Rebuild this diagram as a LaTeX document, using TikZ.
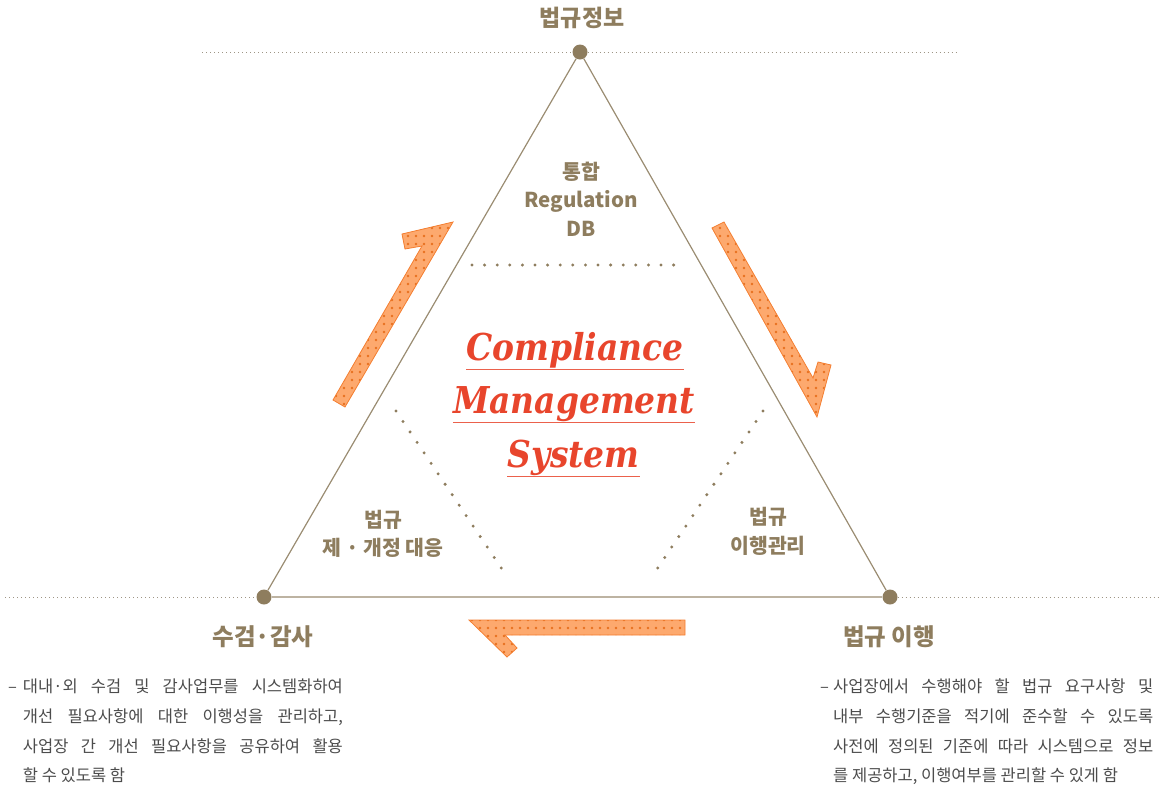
\documentclass[tikz,border=0pt]{standalone}
\usepackage{fontspec}
\setmainfont{Noto Sans CJK KR}
\newfontfamily\cmsfont{DejaVu Serif}[FakeStretch=0.89]
\usetikzlibrary{patterns.meta}
\definecolor{tan}{HTML}{8E7D5E}
\definecolor{tanline}{HTML}{9A8C72}
\definecolor{baseln}{HTML}{BDB3A2}
\definecolor{dotgray}{HTML}{9E9585}
\definecolor{arrfill}{HTML}{FDA96E}
\definecolor{arredge}{HTML}{F47E30}
\definecolor{arrdot}{HTML}{E8701F}
\definecolor{cms}{HTML}{E8452C}
\definecolor{bodyc}{HTML}{4C4C4C}
\begin{document}
\begin{tikzpicture}[x=1pt,y=-1pt,
  vtx/.style={circle, fill=tan, minimum size=15pt, inner sep=0pt},
  lbl/.style={text=tan, font=\fontsize{20.5}{28.5}\selectfont\bfseries, align=center, inner sep=0pt},
  ttl/.style={text=tan, font=\fontsize{23}{27}\selectfont\bfseries, inner sep=0pt},
  bttl/.style={text=tan, font=\fontsize{23.5}{27}\selectfont\bfseries, inner sep=0pt},
  cmsword/.style={text=cms, font=\cmsfont\bfseries\itshape\fontsize{37}{40}\selectfont, inner sep=0pt, anchor=base},
  uline/.style={cms!85, line width=1.1pt},
  bodytxt/.style={text=bodyc, font=\fontsize{16.5}{20}\selectfont, anchor=base west, inner sep=0pt},
  arrowshape/.style={draw=arredge, line width=0.8pt, line join=miter, preaction={fill=arrfill}, pattern={Dots[distance=8pt, radius=1.3pt]}, pattern color=arrdot},
  finedots/.style={dotgray, line width=1pt, dash pattern=on 1pt off 3pt},
  bigdots/.style={tan, line width=3.3pt, line cap=round, dash pattern=on 0pt off 12.6pt},
  side/.style={tanline, line width=1.2pt},
  baseside/.style={baseln, line width=2pt}]
\useasboundingbox (0,0) rectangle (1167,788);

% vertices
\node[vtx] (top) at (580,52) {};
\node[vtx] (bl) at (264,597) {};
\node[vtx] (br) at (890,597) {};

% horizontal dotted guides
\coordinate (gtl) at (202,52);
\coordinate (gtr) at (958,52);
\coordinate (gbl) at (5,597);
\coordinate (gbr) at (1158,597);
\draw[finedots] (gtl) -- (top.west);
\draw[finedots] (top.east) -- (gtr);
\draw[finedots] (gbl) -- (bl.west);
\draw[finedots] (br.east) -- (gbr);

% triangle
\draw[side] (top) -- (bl);
\draw[side] (top) -- (br);
\draw[baseside] (bl) -- (br);

% inner dotted separators
\coordinate (h1) at (472,265);
\coordinate (h2) at (685,265);
\coordinate (l1) at (396,411);
\coordinate (l2) at (508,578);
\coordinate (r1) at (763,411);
\coordinate (r2) at (651,578);
\draw[bigdots] (h1) -- (h2);
\draw[bigdots] (l1) -- (l2);
\draw[bigdots] (r1) -- (r2);

% arrows
\draw[arrowshape] (453,222) -- (402,234) -- (405,249) -- (422,246) -- (333,400) -- (345,407) -- cycle;
\draw[arrowshape] (712,228) -- (724,222) -- (813,378) -- (818,362) -- (831,365) -- (817,417) -- cycle;
\draw[arrowshape] (685,620) -- (469,620) -- (507,657) -- (517,648) -- (505,635) -- (685,635) -- cycle;

% inner labels
\node[lbl] (db) at (581,199) {통합\\Regulation\\DB};
\node[lbl] (rev) at (383,534) {법규\\제 · 개정 대응};
\node[lbl] (mng) at (768,531.5) {법규\\이행관리};

% center title
\node[cmsword] (c1) at (575,360) {Compliance};
\node[cmsword] (c2) at (574,413) {Management};
\node[cmsword] (c3) at (573.5,467) {System};
\draw[uline] ([yshift=-9.5pt]c1.base west) -- ([yshift=-9.5pt]c1.base east);
\draw[uline] ([yshift=-9.5pt]c2.base west) -- ([yshift=-9.5pt]c2.base east);
\draw[uline] ([yshift=-9.5pt]c3.base west) -- ([yshift=-9.5pt]c3.base east);

% titles
\node[ttl] (t1) at (582,18) {법규정보};
\node[bttl] (t2) at (263,637) {수검·감사};
\node[bttl] (t3) at (889,637) {법규 이행};

% left body
\node[bodytxt] (ld) at (8,692) {–};
\node[bodytxt] (la) at (22.7,692) {\makebox[320pt][s]{대내·외 수검 및 감사업무를 시스템화하여}};
\node[bodytxt] (lb) at (22.7,722) {\makebox[320pt][s]{개선 필요사항에 대한 이행성을 관리하고,}};
\node[bodytxt] (lc) at (22.7,752) {\makebox[320pt][s]{사업장 간 개선 필요사항을 공유하여 활용}};
\node[bodytxt] (le) at (22.7,781) {할 수 있도록 함};

% right body
\node[bodytxt] (rd) at (820,692) {–};
\node[bodytxt] (ra) at (833,692) {\makebox[320pt][s]{사업장에서 수행해야 할 법규 요구사항 및}};
\node[bodytxt] (rb) at (833,722) {\makebox[320pt][s]{내부 수행기준을 적기에 준수할 수 있도록}};
\node[bodytxt] (rc) at (833,752) {\makebox[320pt][s]{사전에 정의된 기준에 따라 시스템으로 정보}};
\node[bodytxt] (re) at (833,781) {를 제공하고, 이행여부를 관리할 수 있게 함};
\end{tikzpicture}
\end{document}
